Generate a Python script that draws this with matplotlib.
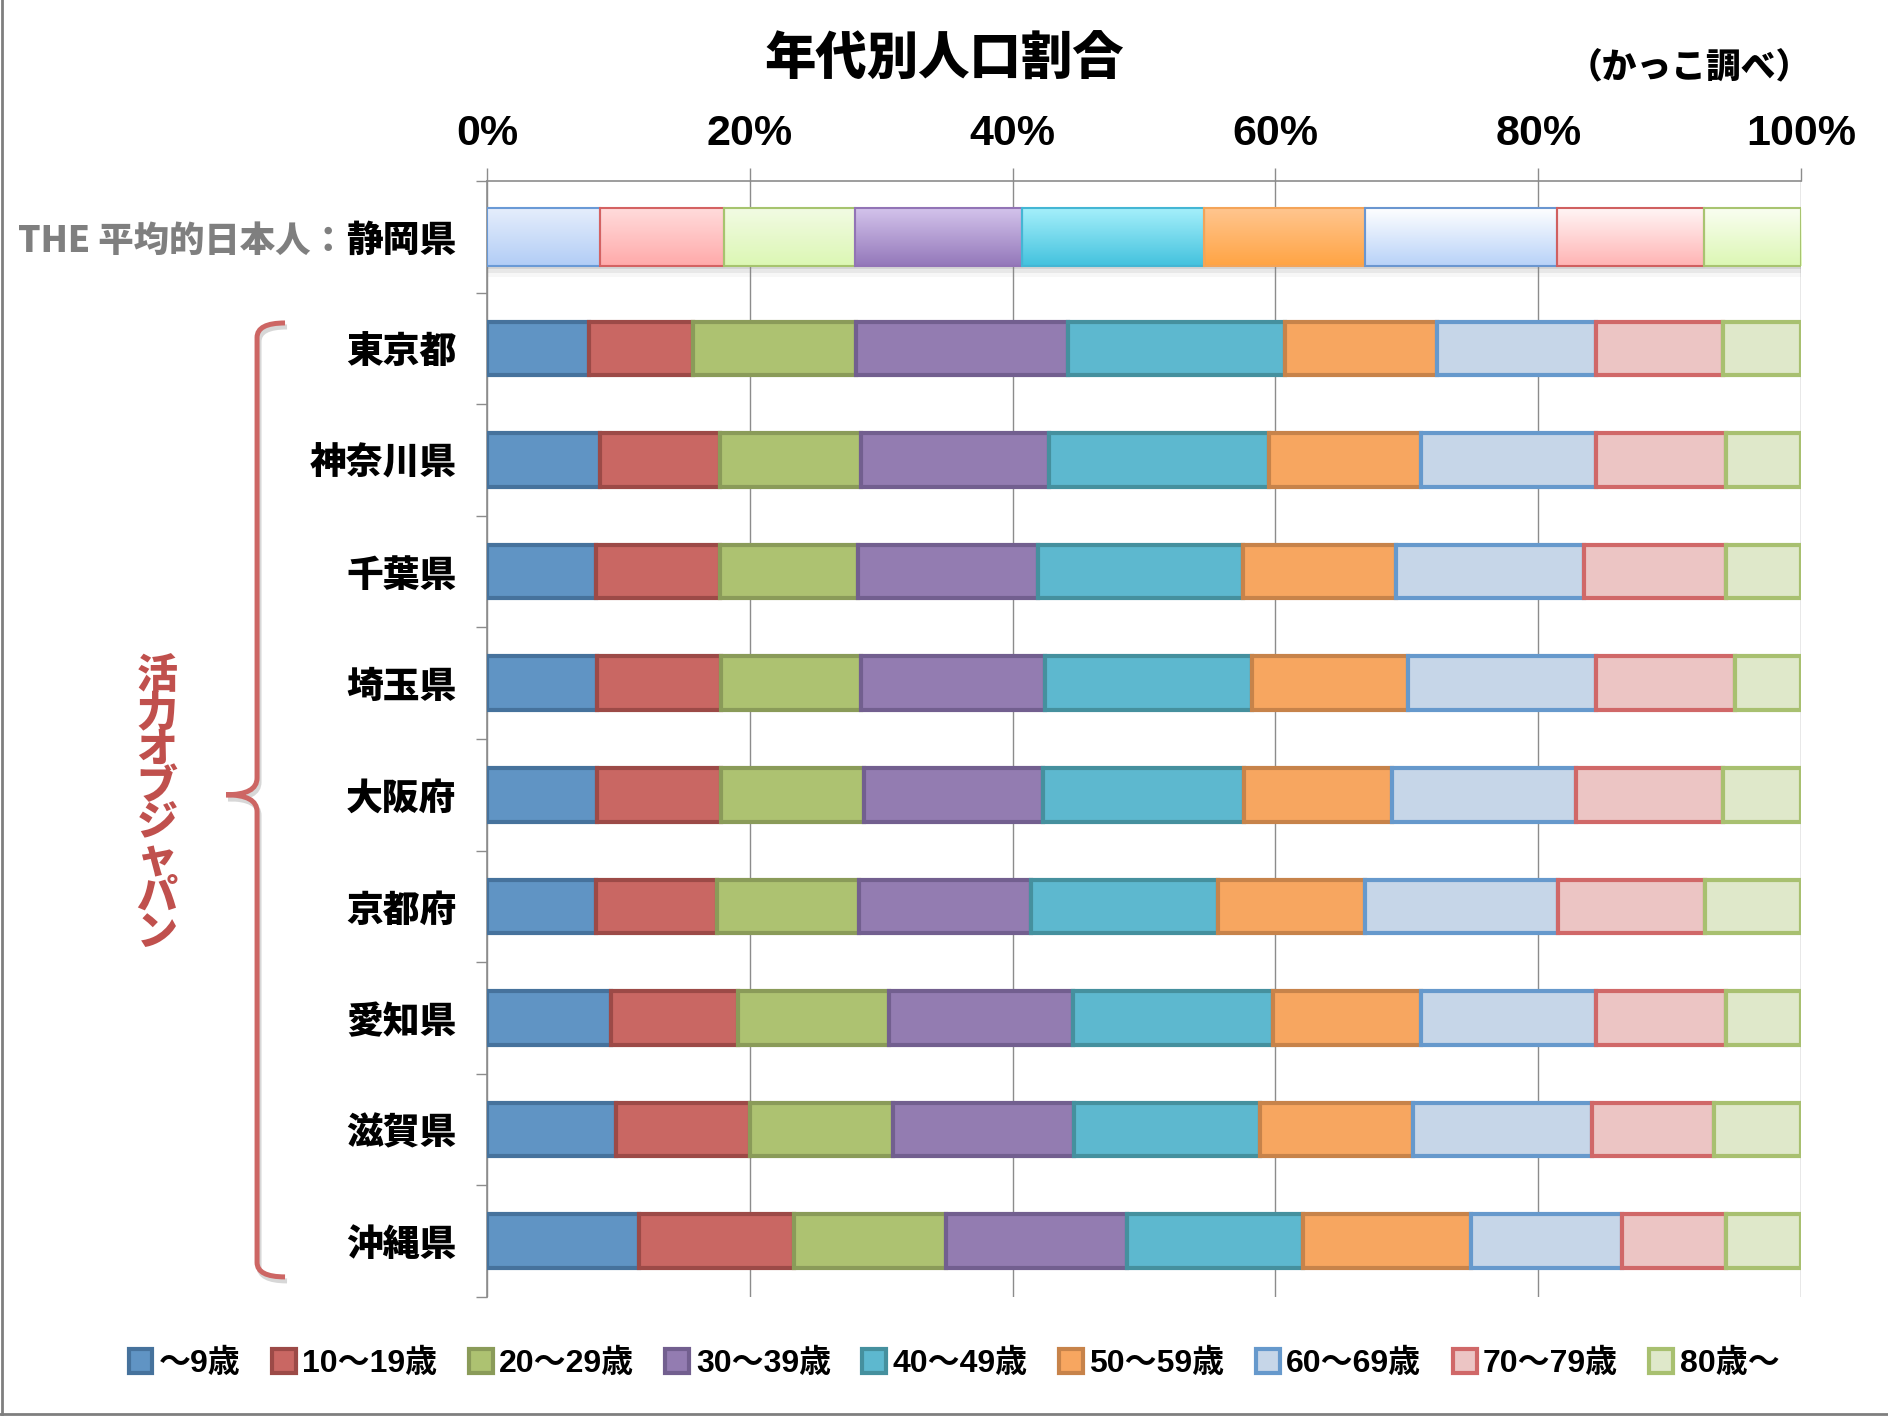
import numpy as np
import matplotlib
matplotlib.use('Agg')
import matplotlib.pyplot as plt
from matplotlib.colors import LinearSegmentedColormap
from matplotlib.path import Path
from matplotlib.patches import PathPatch
from matplotlib.lines import Line2D
import matplotlib.patheffects as pe
import matplotlib.transforms as mtrans

plt.rcParams['font.family'] = ['Noto Sans CJK JP', 'DejaVu Sans']

# ---------------- data ----------------
prefectures = ['静岡県', '東京都', '神奈川県', '千葉県', '埼玉県',
               '大阪府', '京都府', '愛知県', '滋賀県', '沖縄県']
age_groups = ['～9歳', '10～19歳', '20～29歳', '30～39歳', '40～49歳',
              '50～59歳', '60～69歳', '70～79歳', '80歳～']

age_0_9   = [8.6, 7.8, 8.6, 8.3, 8.4, 8.4, 8.3, 9.4, 9.8, 11.6]
age_10_19 = [9.4, 7.9, 9.1, 9.4, 9.4, 9.4, 9.2, 9.7, 10.2, 11.8]
age_20_29 = [10.0, 12.4, 10.8, 10.5, 10.7, 10.9, 10.8, 11.5, 10.9, 11.5]
age_30_39 = [12.7, 16.1, 14.3, 13.7, 14.0, 13.6, 13.1, 14.0, 13.8, 13.8]
age_40_49 = [13.9, 16.5, 16.7, 15.6, 15.7, 15.3, 14.2, 15.2, 14.1, 13.4]
age_50_59 = [12.2, 11.6, 11.6, 11.7, 11.9, 11.3, 11.2, 11.3, 11.7, 12.8]
age_60_69 = [14.6, 12.1, 13.3, 14.3, 14.3, 14.0, 14.7, 13.3, 13.6, 11.5]
age_70_79 = [11.2, 9.7, 9.9, 10.8, 10.6, 11.2, 11.2, 9.9, 9.3, 7.9]
age_80p   = [7.4, 5.9, 5.7, 5.7, 5.0, 5.9, 7.3, 5.7, 6.6, 5.7]

series = [age_0_9, age_10_19, age_20_29, age_30_39, age_40_49,
          age_50_59, age_60_69, age_70_79, age_80p]

xticks = [0, 20, 40, 60, 80, 100]
xtick_labels = ['0%', '20%', '40%', '60%', '80%', '100%']

# ---------------- styles ----------------
fills = ['#6094c4', '#c96763', '#adc271', '#937cb1', '#5db8cf',
         '#f7a660', '#c6d6e8', '#ecc5c4', '#dfe8ca']
edges = ['#46729c', '#9c4a47', '#8a9b59', '#725f8f', '#45909e',
         '#c7834a', '#6699cc', '#d06868', '#a8c070']
grad_top = ['#e6eefc', '#ffdcdc', '#f2fbe4', '#d4c4ec', '#a6f0fb',
            '#ffc690', '#ffffff', '#fff6f6', '#fafef2']
grad_bot = ['#b2cdf6', '#ffaaaa', '#dcf7b4', '#9478ba', '#44c2de',
            '#ffa444', '#b8d2f8', '#ffb4b4', '#dcf7b4']
grad_edge = ['#6a9ad6', '#d46262', '#a6c46e', '#9274b6', '#44b6d4',
             '#f4a458', '#6a96d0', '#d06060', '#a8c470']

GRAY = '#8c8c8c'
HEAVY = 'black'

fig = plt.figure(figsize=(18.88, 14.16), dpi=100)
ax = fig.add_axes([487 / 1888, 1 - 1297 / 1416, 1314 / 1888, 1116 / 1416])

y = np.arange(len(prefectures))
data = np.array(series)
lefts = np.vstack([np.zeros(len(prefectures)), np.cumsum(data, axis=0)[:-1]])

# Regular rows (index 1..)
handles = []
for i, name in enumerate(age_groups):
    b = ax.barh(y[1:], data[i, 1:], left=lefts[i, 1:], height=0.48,
                color=fills[i], edgecolor=edges[i], linewidth=3.0,
                label=name, zorder=3)
    handles.append(b)

# Shizuoka row with gradients and soft shadow
ax.set_xlim(0, 100)
ax.set_ylim(len(prefectures) - 0.5, -0.5)
shadow = [pe.SimplePatchShadow(offset=(0, -2), shadow_rgbFace='#808080', alpha=0.18),
          pe.SimplePatchShadow(offset=(0, -5), shadow_rgbFace='#808080', alpha=0.12),
          pe.SimplePatchShadow(offset=(0, -8), shadow_rgbFace='#909090', alpha=0.07),
          pe.Normal()]
for i in range(len(age_groups)):
    sb = ax.barh(y[0], data[i, 0], left=lefts[i, 0], height=0.52,
                 color=grad_bot[i], edgecolor='none', zorder=3, path_effects=shadow)
    p = sb[0]
    x0, w, y0, h = p.get_x(), p.get_width(), p.get_y(), p.get_height()
    cmap = LinearSegmentedColormap.from_list('g%d' % i, [grad_top[i], grad_bot[i]])
    im = ax.imshow(np.linspace(0, 1, 64).reshape(-1, 1), cmap=cmap, aspect='auto',
                   extent=(x0, x0 + w, y0 + h, y0), origin='upper', zorder=3.5,
                   interpolation='bilinear')
    im.set_clip_path(p)
    ax.barh(y[0], data[i, 0], left=lefts[i, 0], height=0.52, fill=False,
            edgecolor=grad_edge[i], linewidth=1.5, zorder=4)
ax.set_xlim(0, 100)
ax.set_ylim(len(prefectures) - 0.5, -0.5)
ax.set_aspect('auto')

# axes styling
ax.xaxis.tick_top()
ax.set_xticks(xticks)
ax.set_xticklabels(xtick_labels)
for lab in ax.get_xticklabels():
    lab.set_fontfamily(['Liberation Sans', 'DejaVu Sans'])
    lab.set_fontweight('bold')
    lab.set_fontsize(31)
ax.tick_params(axis='x', direction='out', length=9.5, width=1.0, color=GRAY, pad=10)
ax.grid(axis='x', color=GRAY, linewidth=1.0, zorder=0)
ax.set_axisbelow(True)

ax.set_yticks(y)
ax.set_yticklabels(prefectures, fontsize=26.5, fontweight=HEAVY)
ax.set_yticks(np.arange(-0.5, len(prefectures), 1), minor=True)
ax.tick_params(axis='y', which='major', length=0, pad=22)
ax.tick_params(axis='y', which='minor', length=8, width=1.0, color=GRAY, direction='out')

for s in ['right', 'bottom']:
    ax.spines[s].set_visible(False)
for s in ['top', 'left']:
    ax.spines[s].set_color(GRAY)
    ax.spines[s].set_linewidth(1.2)

# Title and subtitle
fig.text(0.5, 1 - 60 / 1416, '年代別人口割合', ha='center', va='center',
         fontsize=37, fontweight=HEAVY)
fig.text(1689 / 1888, 1 - 68 / 1416, '（かっこ調べ）', ha='center', va='center',
         fontsize=25, fontweight=HEAVY)

# Prefix for Shizuoka label
fig.canvas.draw()
lab0 = ax.get_yticklabels()[0]
ax.annotate('THE 平均的日本人：', xy=(0, 0.5), xycoords=lab0, ha='right', va='center',
            fontsize=25.5, fontweight=HEAVY, color='#7f7f7f', annotation_clip=False)

# Brace
trans = mtrans.blended_transform_factory(ax.transAxes, ax.transData)
xv, xh, xp = -0.1750, -0.1537, -0.1986
yt, ym, yb = 0.772, 5.0, 9.32
verts = [(xh, yt), (xv, yt), (xv, yt + 0.13),
         (xv, ym - 0.15), (xv, ym), (xp, ym),
         (xv, ym), (xv, ym + 0.15),
         (xv, yb - 0.13), (xv, yb), (xh, yb)]
codes = [Path.MOVETO, Path.CURVE3, Path.CURVE3,
         Path.LINETO, Path.CURVE3, Path.CURVE3,
         Path.CURVE3, Path.CURVE3,
         Path.LINETO, Path.CURVE3, Path.CURVE3]
brace = Path(verts, codes)
shadow_tr = mtrans.offset_copy(trans, fig=fig, x=2, y=-4, units='dots')
ax.add_patch(PathPatch(brace, transform=shadow_tr, fill=False, edgecolor='#b0b0b0',
                       linewidth=3.6, alpha=0.5, clip_on=False, zorder=1))
ax.add_patch(PathPatch(brace, transform=trans, fill=False, edgecolor='#cd6664',
                       linewidth=3.6, clip_on=False, zorder=2, capstyle='butt'))

fig.text(157 / 1888, 1 - 805 / 1416, '\n'.join('活力オブジャパン'), ha='center', va='center',
         fontsize=29.5, fontweight=HEAVY, color='#c0504d', linespacing=0.84)

# Legend
leg = fig.legend(handles=handles, labels=age_groups, loc='center',
                 bbox_to_anchor=(954 / 1888, 1 - 1364 / 1416), ncol=9, frameon=False,
                 handlelength=0.75, handleheight=0.75, handletextpad=0.2, columnspacing=0.98,
                 prop={'family': ['Liberation Sans', 'Noto Sans CJK JP'], 'weight': 'bold', 'size': 23})

# Figure border (left and bottom)
fig.add_artist(Line2D([0.001, 0.001], [0, 1], transform=fig.transFigure, color='#7f7f7f', linewidth=2))
fig.add_artist(Line2D([0, 1], [0.0015, 0.0015], transform=fig.transFigure, color='#7f7f7f', linewidth=2))

fig.savefig('out.png', dpi=100)
